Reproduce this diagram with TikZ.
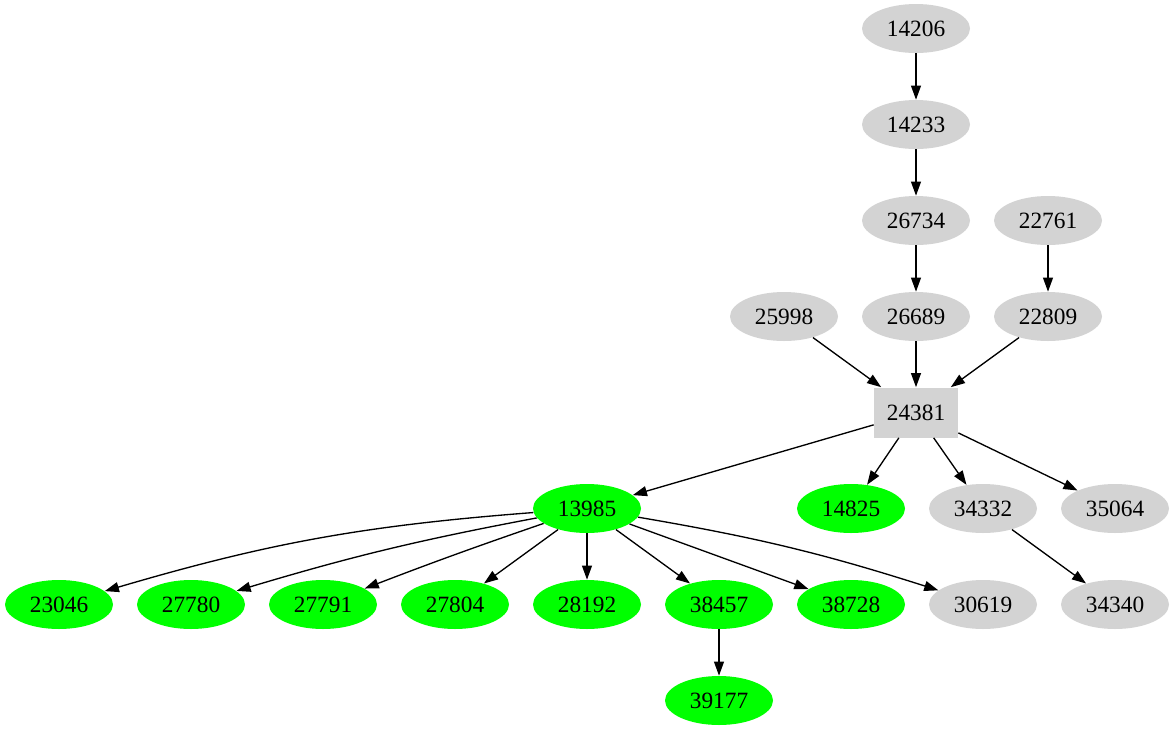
\documentclass[tikz,border=0pt]{standalone}
\usepackage{fontspec}
\setmainfont{Liberation Serif}
\usepackage{tikz}
\usetikzlibrary{shapes.geometric,arrows.meta}
\definecolor{grey}{HTML}{D3D3D3}
\definecolor{hit}{HTML}{00FF00}
\tikzset{
  vtx/.style={ellipse, draw=none, inner sep=0pt, minimum width=64.8pt, minimum height=29.4pt, font=\fontsize{14}{16}\selectfont},
  plain/.style={vtx, fill=grey},
  found/.style={vtx, fill=hit},
  hub/.style={rectangle, fill=grey, inner sep=0pt, minimum width=50.4pt, minimum height=30pt, font=\fontsize{14}{16}\selectfont},
  link/.style={draw=black, line width=0.8pt, -{Triangle[length=8.5pt,width=6pt]}}
}

\begin{document}
\begin{tikzpicture}[x=0.6pt,y=-0.6pt]
  \useasboundingbox (0,0) rectangle (1174,731);

  % upper chain
  \node[plain] (n14206) at (916,28.5) {14206};
  \node[plain] (n14233) at (916,124.5) {14233};
  \node[plain] (n26734) at (916,220.5) {26734};
  \node[plain] (n22761) at (1048,220.5) {22761};
  \node[plain] (n25998) at (784,316.5) {25998};
  \node[plain] (n26689) at (916,316.5) {26689};
  \node[plain] (n22809) at (1048,316.5) {22809};
  \node[hub] (n24381) at (916,412.5) {24381};

  % lower part
  \node[found] (n13985) at (587,508.5) {13985};
  \node[found] (n14825) at (851,508.5) {14825};
  \node[plain] (n34332) at (983,508.5) {34332};
  \node[plain] (n35064) at (1115,508.5) {35064};

  \node[found] (n23046) at (59,604.5) {23046};
  \node[found] (n27780) at (191,604.5) {27780};
  \node[found] (n27791) at (323,604.5) {27791};
  \node[found] (n27804) at (455,604.5) {27804};
  \node[found] (n28192) at (587,604.5) {28192};
  \node[found] (n38457) at (719,604.5) {38457};
  \node[found] (n38728) at (851,604.5) {38728};
  \node[plain] (n30619) at (983,604.5) {30619};
  \node[plain] (n34340) at (1115,604.5) {34340};
  \node[found] (n39177) at (719,700.5) {39177};

  \draw[link] (n14206) -- (n14233);
  \draw[link] (n14233) -- (n26734);
  \draw[link] (n26734) -- (n26689);
  \draw[link] (n22761) -- (n22809);
  \draw[link] (n25998) -- (n24381);
  \draw[link] (n26689) -- (n24381);
  \draw[link] (n22809) -- (n24381);

  \draw[link] (n24381) -- (n13985);
  \draw[link] (n24381) -- (n14825);
  \draw[link] (n24381) -- (n34332);
  \draw[link] (n24381) -- (n35064);
  \draw[link] (n34332) -- (n34340);

  \draw[link] (n13985) to[bend right=6] (n23046);
  \draw[link] (n13985) to[bend right=3] (n27780);
  \draw[link] (n13985) to[bend right=1] (n27791);
  \draw[link] (n13985) -- (n27804);
  \draw[link] (n13985) -- (n28192);
  \draw[link] (n13985) -- (n38457);
  \draw[link] (n13985) -- (n38728);
  \draw[link] (n13985) to[bend left=4] (n30619);
  \draw[link] (n38457) -- (n39177);
\end{tikzpicture}
\end{document}
